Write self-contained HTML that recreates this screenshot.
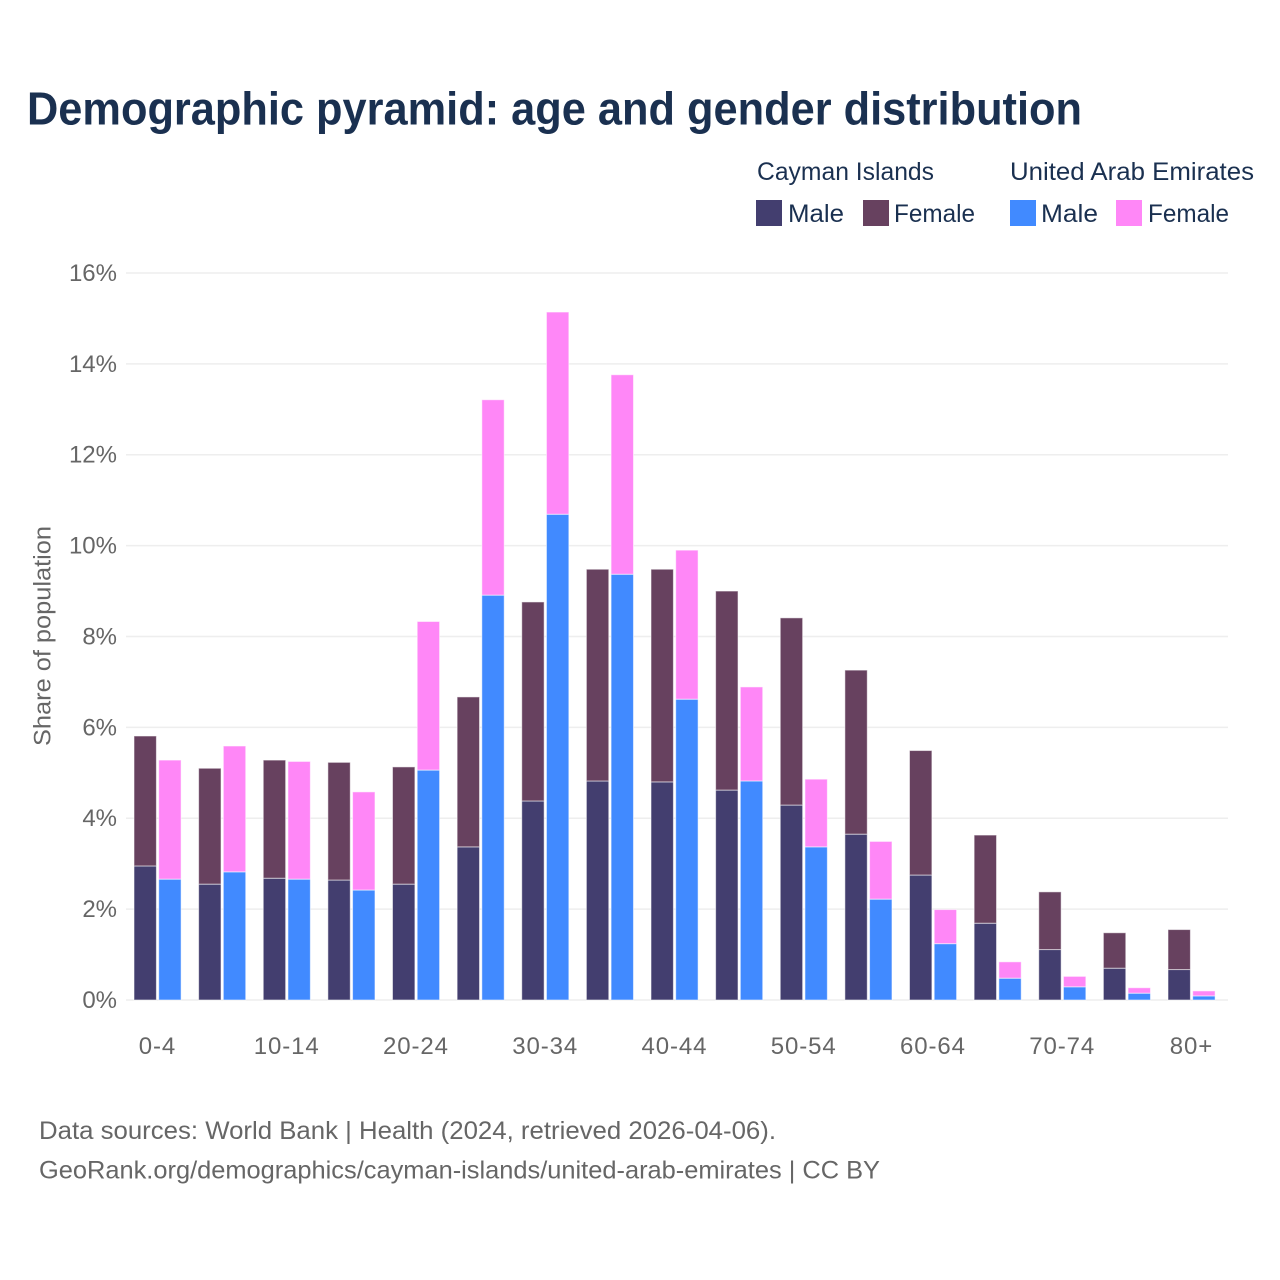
<!DOCTYPE html>
<html lang="en">
<head>
<meta charset="utf-8">
<title>Demographic pyramid</title>
<style>
html,body{margin:0;padding:0;background:#fff;}
svg{display:block;font-family:"Liberation Sans",sans-serif;}
.tick{font-size:24px;fill:#666;}
.leg{font-size:25px;fill:#1a3050;}
.foot{font-size:25px;fill:#666;}
</style>
</head>
<body>
<svg id="chart" width="1280" height="1280" viewBox="0 0 1280 1280" xmlns="http://www.w3.org/2000/svg">
<rect width="1280" height="1280" fill="#fff"/>
<text x="27" y="124.5" font-size="46" font-weight="700" fill="#1a3050" textLength="1055" lengthAdjust="spacingAndGlyphs">Demographic pyramid: age and gender distribution</text>
<g>
<text class="leg" x="757" y="180" textLength="177" lengthAdjust="spacingAndGlyphs">Cayman Islands</text>
<text class="leg" x="1010" y="180" textLength="244" lengthAdjust="spacingAndGlyphs">United Arab Emirates</text>
<rect x="756" y="200" width="26" height="26" fill="#433e6f"/>
<text class="leg" x="788" y="222" textLength="56" lengthAdjust="spacingAndGlyphs">Male</text>
<rect x="863" y="200" width="26" height="26" fill="#67415f"/>
<text class="leg" x="894" y="222" textLength="81" lengthAdjust="spacingAndGlyphs">Female</text>
<rect x="1010" y="200" width="26" height="26" fill="#418aff"/>
<text class="leg" x="1041" y="222" textLength="57" lengthAdjust="spacingAndGlyphs">Male</text>
<rect x="1116" y="200" width="26" height="26" fill="#ff87f7"/>
<text class="leg" x="1148" y="222" textLength="81" lengthAdjust="spacingAndGlyphs">Female</text>
</g>
<g id="grid"></g>
<g id="yticks"></g>
<g id="xticks"></g>
<g id="bars"></g>
<text class="tick" transform="translate(50.5,636) rotate(-90)" text-anchor="middle" textLength="220" lengthAdjust="spacingAndGlyphs">Share of population</text>
<text class="foot" x="39" y="1139" textLength="737" lengthAdjust="spacingAndGlyphs">Data sources: World Bank | Health (2024, retrieved 2026-04-06).</text>
<text class="foot" x="39" y="1178.5" textLength="841" lengthAdjust="spacingAndGlyphs">GeoRank.org/demographics/cayman-islands/united-arab-emirates | CC BY</text>
</svg>
<script>
const categories = ["0-4","5-9","10-14","15-19","20-24","25-29","30-34","35-39","40-44","45-49","50-54","55-59","60-64","65-69","70-74","75-79","80+"];
const xTickLabels = ["0-4","10-14","20-24","30-34","40-44","50-54","60-64","70-74","80+"];
const yTickValues = [0,2,4,6,8,10,12,14,16];
const caymanMale = [2.95,2.55,2.68,2.64,2.55,3.37,4.38,4.82,4.80,4.62,4.29,3.65,2.75,1.69,1.11,0.70,0.67];
const caymanFemale = [2.86,2.55,2.60,2.59,2.58,3.30,4.38,4.66,4.68,4.38,4.12,3.61,2.74,1.94,1.27,0.78,0.88];
const uaeMale = [2.66,2.82,2.66,2.42,5.06,8.91,10.69,9.37,6.62,4.82,3.37,2.22,1.24,0.48,0.29,0.15,0.09];
const uaeFemale = [2.62,2.77,2.59,2.16,3.27,4.30,4.45,4.39,3.28,2.07,1.49,1.27,0.75,0.36,0.23,0.12,0.11];

const NS = "http://www.w3.org/2000/svg";
function yScale(v){ return 1000 - v * 45.44; }
function xCenter(i){ return 157.5 + i * 64.625; }
function make(tag, attrs, parent){
  const el = document.createElementNS(NS, tag);
  for (const k in attrs) el.setAttribute(k, attrs[k]);
  parent.appendChild(el);
  return el;
}
const gridG = document.getElementById("grid");
const yG = document.getElementById("yticks");
const xG = document.getElementById("xticks");
const barG = document.getElementById("bars");

yTickValues.forEach(function(v){
  const line = make("line", {x1:126, x2:1228, y1:yScale(v), y2:yScale(v), stroke:"#eeeeee", "stroke-width":1.5}, gridG);
  
  
  const t = make("text", {x:117, y:yScale(v)+8, "text-anchor":"end", class:"tick"}, yG);
  
  
  t.textContent = v + "%";
});

xTickLabels.forEach(function(label){
  const i = categories.indexOf(label);
  const t = make("text", {x:xCenter(i), y:1054, "text-anchor":"middle", class:"tick", "letter-spacing":"0.9"}, xG);
  
  
  t.textContent = label;
});

function drawBar(x, base, value, fill){
  const top = yScale(base + value);
  const r = make("rect", {x:x, y:top, width:22.4, height:yScale(base) - top, fill:fill, stroke:"#ffffff", "stroke-opacity":0.55, "stroke-width":1}, barG);
  return r;
}
categories.forEach(function(cat, i){
  const c = xCenter(i);
  const a = drawBar(c - 23.5, 0, caymanMale[i], "#433e6f");
  
  
  const b = drawBar(c - 23.5, caymanMale[i], caymanFemale[i], "#67415f");
  
  
  const d = drawBar(c + 1.2, 0, uaeMale[i], "#418aff");
  
  
  const e = drawBar(c + 1.2, uaeMale[i], uaeFemale[i], "#ff87f7");
  
  
});
</script>
</body>
</html>
